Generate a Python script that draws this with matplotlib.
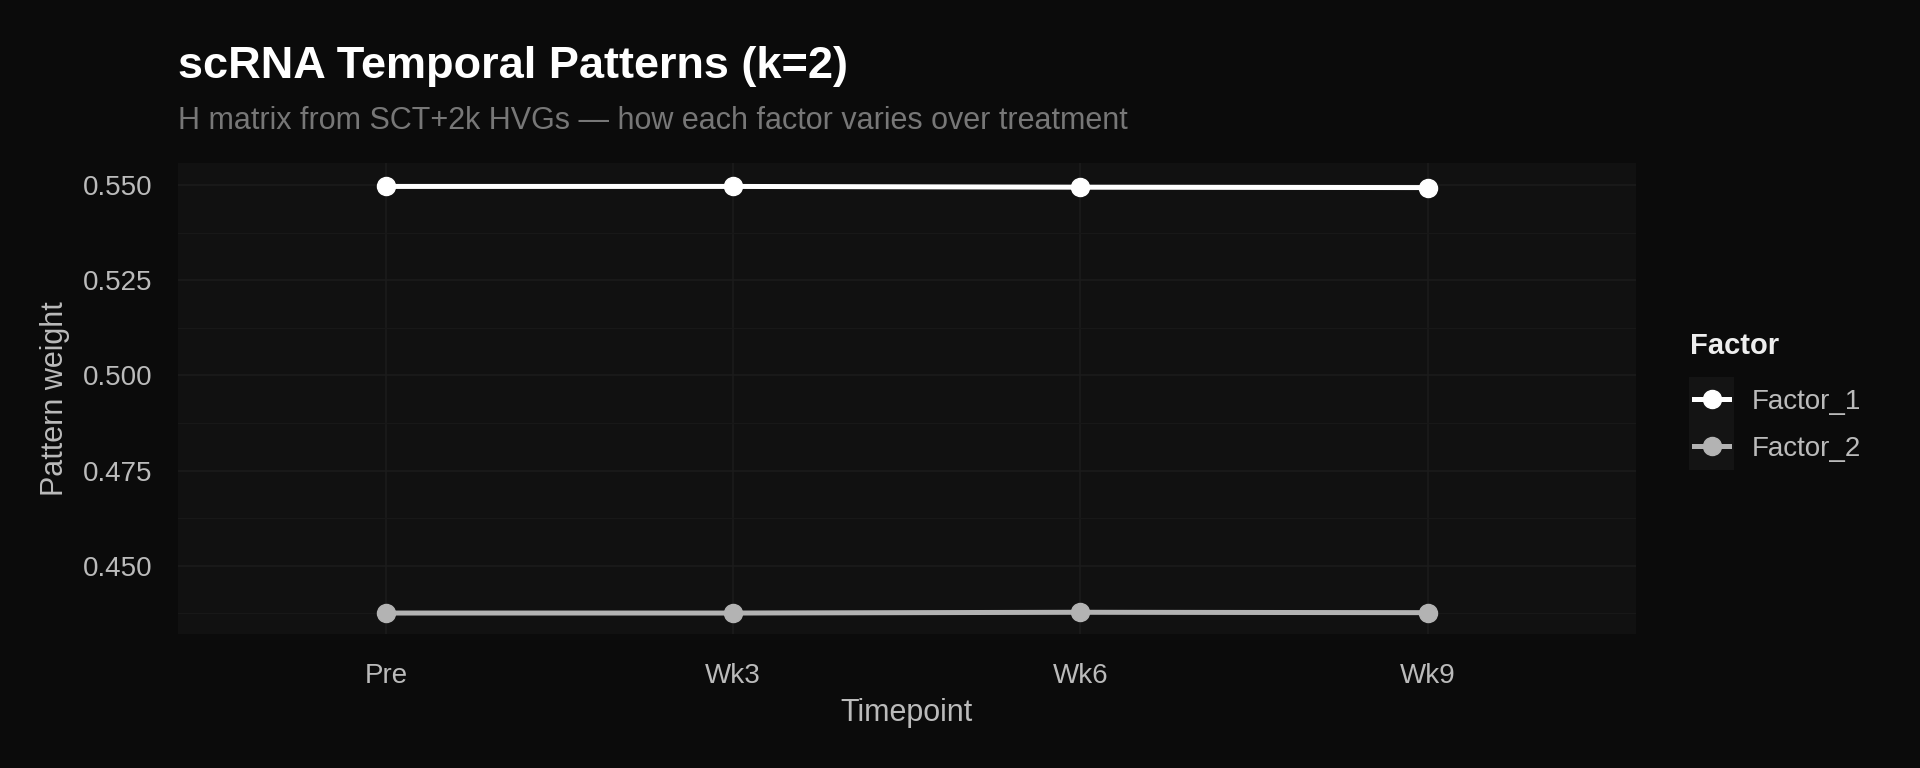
import matplotlib
matplotlib.use("Agg")
import matplotlib.pyplot as plt
from matplotlib.lines import Line2D
from matplotlib.patches import Rectangle
from matplotlib.ticker import MultipleLocator, FormatStrFormatter

plt.rcParams['font.family'] = ['Liberation Sans', 'DejaVu Sans']

#_________data__________________
timepoints = ["Pre", "Wk3", "Wk6", "Wk9"]
factor_1 = [0.5496, 0.5496, 0.5494, 0.5493]
factor_2 = [0.4376, 0.4376, 0.4378, 0.4377]
factor_names = ["Factor_1", "Factor_2"]
factor_colors = ["#ffffff", "#b3b3b3"]

BG = "#0b0b0b"
PANEL = "#111111"
GRID = "#1c1c1c"
TXT = "#bbbbbb"

fig = plt.figure(figsize=(19.2, 7.68), dpi=100, facecolor=BG)
ax = fig.add_axes([0.0925, 0.174, 0.7595, 0.614])
ax.set_facecolor(PANEL)

x = list(range(len(timepoints)))
for vals, name, col in zip([factor_1, factor_2], factor_names, factor_colors):
    ax.plot(x, vals, color=col, lw=3.6, marker="o", ms=13, label=name, zorder=3)

ax.set_xlim(-0.6, len(timepoints) - 1 + 0.6)
ax.set_ylim(0.4320, 0.5558)
ax.set_xticks(x)
ax.set_xticklabels(timepoints)
ax.yaxis.set_major_locator(MultipleLocator(0.025))
ax.yaxis.set_minor_locator(MultipleLocator(0.0125))
ax.yaxis.set_major_formatter(FormatStrFormatter("%.3f"))

ax.grid(True, which="major", color=GRID, lw=1.1, zorder=0)
ax.grid(True, which="minor", axis="y", color="#181818", lw=0.8, zorder=0)
ax.set_axisbelow(True)
for s in ax.spines.values():
    s.set_visible(False)
ax.tick_params(which="both", length=0, colors=TXT, labelsize=20)
ax.tick_params(axis="y", pad=18)
ax.tick_params(axis="x", pad=20.5)

# axis titles
fig.text(0.0925 + 0.7595 / 2, 0.0612, "Timepoint", color=TXT, fontsize=22,
         ha="center", va="baseline")
fig.text(0.0285, 0.174 + 0.614 / 2, "Pattern weight", color=TXT, fontsize=22,
         ha="center", va="center", rotation=90)

fig.text(0.0925, 0.898, "scRNA Temporal Patterns (k=2)", color="white",
         fontsize=32.5, fontweight="bold", va="baseline", ha="left")
fig.text(0.0925, 0.832, "H matrix from SCT+2k HVGs \u2014 how each factor varies over treatment",
         color="#777777", fontsize=22, va="baseline", ha="left")

# legend
fig.text(0.880, 0.549, "Factor", color="#eeeeee", fontsize=21, fontweight="bold", va="center")
fig.patches.append(Rectangle((0.8795, 0.388), 0.0235, 0.121, transform=fig.transFigure,
                             facecolor="#141414", edgecolor="none", zorder=0))
handles = [Line2D([], [], color=c, lw=3.6, marker="o", ms=13) for c in factor_colors]
leg = fig.legend(handles, factor_names, loc="upper left", bbox_to_anchor=(0.8825, 0.494),
                 frameon=False, fontsize=20, labelcolor=TXT, handlelength=1.25,
                 handletextpad=0.8, labelspacing=0.77, borderpad=0, borderaxespad=0)

fig.savefig("out.png", dpi=100, facecolor=BG)
